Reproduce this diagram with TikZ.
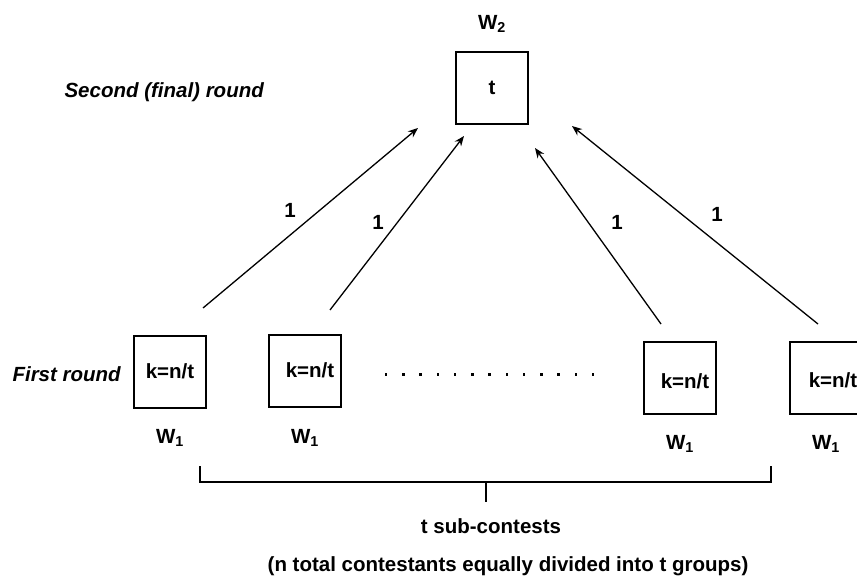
\documentclass[tikz,border=0pt]{standalone}
\usepackage{fontspec}
\setmainfont{Liberation Sans}
\usetikzlibrary{arrows.meta}
\begin{document}
\begin{tikzpicture}[x=1pt,y=-1pt,
  every node/.style={font=\fontsize{20.5}{24}\selectfont\bfseries},
  lbl/.style={font=\fontsize{20.5}{24}\selectfont\bfseries\itshape,anchor=west},
  boxnode/.style={draw,line width=1.3pt,minimum width=72pt,minimum height=72pt,inner sep=0pt},
  conn/.style={line width=1.3pt,-{Stealth[length=10pt,width=8pt]}},
  brace/.style={line width=1.3pt}]
\useasboundingbox (0,0) rectangle (857,580);
\begin{scope}
\clip (0,0) rectangle (857,580);
\node[boxnode] (top) at (492,88) {t};
\node[boxnode] (b1) at (170,372) {};
\node[boxnode] (b2) at (305,371) {};
\node[boxnode] (b3) at (680,378) {};
\node[boxnode] (b4) at (826,378) {};
\node (k1) at (170,371) {k=n/t};
\node (k2) at (310,370) {k=n/t};
\node (k3) at (685,381) {k=n/t};
\node (k4) at (833,380) {k=n/t};
\end{scope}
\node (w2) at (492,24) {W\textsubscript{2}};
\node (w11) at (170,438) {W\textsubscript{1}};
\node (w12) at (305,438) {W\textsubscript{1}};
\node (w13) at (680,444) {W\textsubscript{1}};
\node (w14) at (826,444) {W\textsubscript{1}};
\node[lbl] (second) at (61,92) {Second (final) round};
\node[lbl] (first) at (9,374) {First round};
\foreach \i in {0,...,12} \fill ({386+17.25*\i-1.2},373) rectangle ++(2.6,2.6);
\coordinate (s1) at (203,308);
\coordinate (e1) at (418,128);
\coordinate (s2) at (330,310);
\coordinate (e2) at (464,136);
\coordinate (s3) at (661,324);
\coordinate (e3) at (535,148);
\coordinate (s4) at (818,324);
\coordinate (e4) at (572,126);
\draw[conn] (s1) -- (e1);
\draw[conn] (s2) -- (e2);
\draw[conn] (s3) -- (e3);
\draw[conn] (s4) -- (e4);
\node (l1) at (290,210) {1};
\node (l2) at (378,222) {1};
\node (l3) at (617,222) {1};
\node (l4) at (717,214) {1};
\coordinate (bl) at (200,466);
\coordinate (blb) at (200,482);
\coordinate (br) at (771,466);
\coordinate (brb) at (771,482);
\coordinate (bm) at (486,482);
\coordinate (bmd) at (486,502);
\draw[brace] (bl) -- (blb) -- (brb) -- (br);
\draw[brace] (bm) -- (bmd);
\node (sub) at (491,526) {t sub-contests};
\node (note) at (508,566) {(n total contestants equally divided into t groups)};
\end{tikzpicture}
\end{document}
